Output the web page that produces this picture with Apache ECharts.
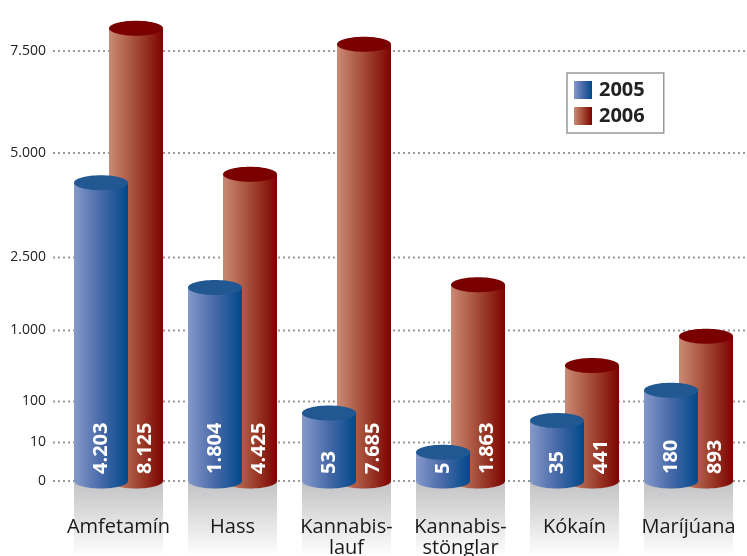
<!DOCTYPE html>
<html>
<head>
  <meta charset="UTF-8">
  <script src="https://cdn.jsdelivr.net/npm/echarts@6/dist/echarts.min.js"></script>
  <style>
    html, body { margin: 0; padding: 0; background: #fff; }
    #main { width: 747px; height: 556px; }
  </style>
</head>
<body>
  <div id="main"></div>
  <script>
    // data
    var categories = ['Amfetamín', 'Hass', 'Kannabis-\nlauf', 'Kannabis-\nstönglar', 'Kókaín', 'Maríjúana'];
    var values2005 = [4203, 1804, 53, 5, 35, 180];
    var values2006 = [8125, 4425, 7685, 1863, 441, 893];

    // the axis is not linear: tick values and how high each sits on the axis
    var tickValues = [0, 10, 100, 1000, 2500, 5000, 7500];
    var tickLabels = ['0', '10', '100', '1.000', '2.500', '5.000', '7.500'];
    var tickHeights = [0, 38.5, 79.5, 150.5, 223.5, 328, 430];

    function warp(v, small) {
      return small ? Math.log10(1 + v) : Math.sqrt(v);
    }
    // piecewise scale between the ticks
    function scaleValue(v) {
      var i = 1;
      while (i < tickValues.length - 1 && v > tickValues[i]) i++;
      var a = tickValues[i - 1], b = tickValues[i];
      var small = b <= 100;
      var wa = warp(a, small), wb = warp(b, small), wv = warp(v, small);
      return tickHeights[i - 1] + (tickHeights[i] - tickHeights[i - 1]) * (wv - wa) / (wb - wa);
    }
    function fmt(v) {
      return String(v).replace(/\B(?=(\d{3})+(?!\d))/g, '.');
    }

    var FONT = '"Open Sans", "Noto Sans", sans-serif';
    var BAR_W = 54, OFFSET = 17.5, RY = 7.5;

    var blueSide = ['#8599ca', '#4769a8', '#00498a'];
    var redSide = ['#cb8a75', '#a34a35', '#7c0300'];
    var blueTop = '#225892';
    var redTop = '#7a0000';

    function sideGradient(c) {
      return new echarts.graphic.LinearGradient(0, 0, 1, 0, [
        { offset: 0, color: c[0] },
        { offset: 0.5, color: c[1] },
        { offset: 1, color: c[2] }
      ]);
    }

    function cylinder(dir, colors, topColor) {
      return function (params, api) {
        var idx = api.value(0);
        var base = api.coord([idx, 0]);
        var top = api.coord([idx, api.value(1)]);
        var cx = base[0] + dir * OFFSET;
        var x0 = cx - BAR_W / 2;
        var grad = sideGradient(colors);
        // label sits in the visible part of the bar
        var lx = dir < 0 ? cx : (base[0] - OFFSET + BAR_W / 2 + cx + BAR_W / 2) / 2;
        return {
          type: 'group',
          children: [
            { type: 'ellipse', shape: { cx: cx, cy: base[1], rx: BAR_W / 2, ry: RY }, style: { fill: grad } },
            { type: 'rect', shape: { x: x0, y: top[1], width: BAR_W, height: base[1] - top[1] }, style: { fill: grad } },
            { type: 'ellipse', shape: { cx: cx, cy: top[1], rx: BAR_W / 2, ry: RY }, style: { fill: topColor } },
            {
              type: 'text', x: lx, y: base[1] - 7, rotation: Math.PI / 2,
              style: {
                text: fmt(api.value(2)), fill: '#fff', align: 'left', verticalAlign: 'middle',
                font: 'bold 20px ' + FONT
              }
            }
          ]
        };
      };
    }

    var chart = echarts.init(document.getElementById('main'));

    chart.setOption({
      backgroundColor: '#fff',
      animation: false,
      grid: { left: 61.5, right: 1.5, top: 21, bottom: 75, outerBoundsMode: 'none', containLabel: false },
      legend: {
        orient: 'vertical',
        left: 567, top: 73,
        data: ['2005', '2006'],
        icon: 'rect',
        itemWidth: 18, itemHeight: 18, itemGap: 6,
        padding: [7, 19, 7, 7],
        borderColor: '#999', borderWidth: 1.5,
        textStyle: { fontSize: 20, fontWeight: 'bold', color: '#222', fontFamily: FONT, lineHeight: 20, padding: [0, 0, 0, 2] }
      },
      xAxis: {
        type: 'category',
        z: 10,
        data: categories,
        axisLine: { show: false },
        axisTick: { show: false },
        axisLabel: { interval: 0, margin: 36, fontSize: 20, lineHeight: 21, color: '#1a1a1a', fontFamily: FONT }
      },
      yAxis: { type: 'value', min: 0, max: 460, show: false },
      series: [
        {
          type: 'custom', z: 1, silent: true,
          data: tickValues.map(function (v, i) { return [0, scaleValue(v), i]; }),
          renderItem: function (params, api) {
            var p = api.coord([0, api.value(1)]);
            return {
              type: 'group',
              children: [
                { type: 'line', shape: { x1: 53, y1: p[1], x2: 747, y2: p[1] }, style: { stroke: '#9a9a9a', lineWidth: 2, lineDash: [2, 3] } },
                { type: 'text', x: 46, y: p[1], style: { text: tickLabels[api.value(2)], align: 'right', verticalAlign: 'middle', font: '14px ' + FONT, fill: '#222' } }
              ]
            };
          }
        },
        {
          type: 'custom', z: 2, silent: true,
          data: categories.map(function (c, i) { return [i, 0]; }),
          renderItem: function (params, api) {
            var base = api.coord([api.value(0), 0]);
            var half = OFFSET + BAR_W / 2;
            return {
              type: 'rect',
              shape: { x: base[0] - half, y: base[1], width: half * 2, height: 556 - base[1] },
              style: {
                fill: new echarts.graphic.LinearGradient(0, 0, 0, 1, [
                  { offset: 0, color: '#c2c2c4' },
                  { offset: 0.6, color: '#e6e6e7' },
                  { offset: 1, color: '#ffffff' }
                ])
              }
            };
          }
        },
        {
          name: '2005', type: 'custom', z: 4,
          itemStyle: { color: sideGradient(blueSide) },
          data: values2005.map(function (v, i) { return [i, scaleValue(v), v]; }),
          renderItem: cylinder(-1, blueSide, blueTop)
        },
        {
          name: '2006', type: 'custom', z: 3,
          itemStyle: { color: sideGradient(redSide) },
          data: values2006.map(function (v, i) { return [i, scaleValue(v), v]; }),
          renderItem: cylinder(1, redSide, redTop)
        }
      ]
    });
  </script>
</body>
</html>
